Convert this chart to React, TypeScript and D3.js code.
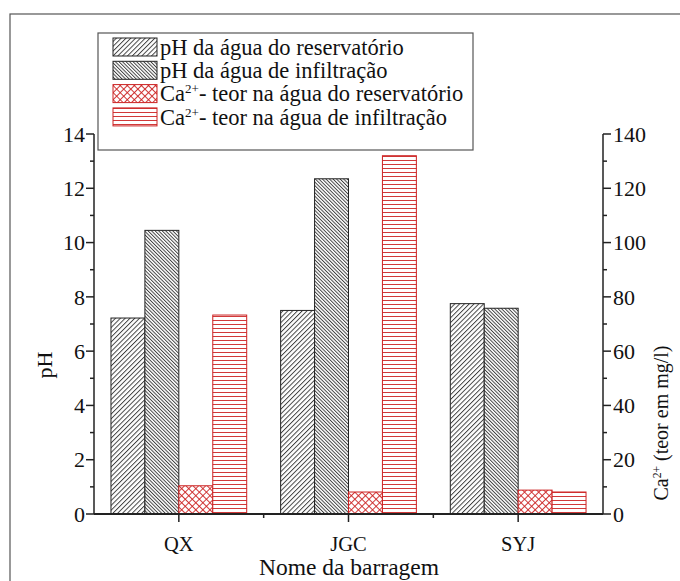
import React from "react";
import * as d3 from "d3";

const categories = ["QX", "JGC", "SYJ"];
const phReservoir = [7.22, 7.5, 7.75];
const phInfiltration = [10.45, 12.35, 7.58];
const caReservoir = [10.4, 8.1, 8.8];
const caInfiltration = [73.3, 132, 8.1];
const phTicks = [0, 2, 4, 6, 8, 10, 12, 14];
const caTicks = [0, 20, 40, 60, 80, 100, 120, 140];

const W = 680;
const H = 581;
const left = 94;
const right = 603;
const top = 134;
const bottom = 514;
const FONT = "Liberation Serif, DejaVu Serif, Times New Roman, serif";
const RED = "#cc2222";
const DARK = "#222";
const TICK_FS = 22;
const LEGEND_FS = 22.5;

type Series = { key: string; values: number[]; axis: "ph" | "ca"; fill: string; stroke: string };

const series: Series[] = [
  { key: "phRes", values: phReservoir, axis: "ph", fill: "url(#hatchFwd)", stroke: DARK },
  { key: "phInf", values: phInfiltration, axis: "ph", fill: "url(#hatchBack)", stroke: DARK },
  { key: "caRes", values: caReservoir, axis: "ca", fill: "url(#hatchCross)", stroke: RED },
  { key: "caInf", values: caInfiltration, axis: "ca", fill: "url(#hatchHoriz)", stroke: RED },
];

function CaLabel({ rest, size }: { rest: string; size: number }) {
  return (
    <>
      Ca
      <tspan fontSize={size * 0.58} dy={-size * 0.36}>2+</tspan>
      <tspan dy={size * 0.36}>{rest}</tspan>
    </>
  );
}

export default function App() {
  const x0 = d3.scaleBand<string>().domain(categories).range([left, right]).paddingInner(0).paddingOuter(0);
  const groupW = x0.bandwidth() * 0.8;
  const x1 = d3.scaleBand<string>().domain(series.map((s) => s.key)).range([0, groupW]);
  const yPh = d3.scaleLinear().domain([0, 14]).range([bottom, top]);
  const yCa = d3.scaleLinear().domain([0, 140]).range([bottom, top]);

  const phMinor = d3.range(1, 14, 2);
  const caMinor = d3.range(10, 140, 20);
  const bandEdges = categories.slice(1).map((c) => x0(c) as number);

  const legendItems = [
    { fill: "url(#hatchFwd)", stroke: DARK, label: <>pH da água do reservatório</> },
    { fill: "url(#hatchBack)", stroke: DARK, label: <>pH da água de infiltração</> },
    { fill: "url(#hatchCross)", stroke: RED, label: <CaLabel rest="- teor na água do reservatório" size={LEGEND_FS} /> },
    { fill: "url(#hatchHoriz)", stroke: RED, label: <CaLabel rest="- teor na água de infiltração" size={LEGEND_FS} /> },
  ];

  return (
    <svg
      width={W}
      height={H}
      style={{ position: "absolute", left: 0, top: 0, background: "#fff", fontFamily: FONT }}
    >
      <defs>
        <pattern id="hatchFwd" patternUnits="userSpaceOnUse" width={3.4} height={10} patternTransform="rotate(45)">
          <rect width={3.4} height={10} fill="#fff" />
          <line x1={0.5} y1={0} x2={0.5} y2={10} stroke="#333" strokeWidth={0.9} />
        </pattern>
        <pattern id="hatchBack" patternUnits="userSpaceOnUse" width={2.5} height={10} patternTransform="rotate(-45)">
          <rect width={2.5} height={10} fill="#fff" />
          <line x1={0.5} y1={0} x2={0.5} y2={10} stroke="#333" strokeWidth={0.9} />
        </pattern>
        <pattern id="hatchCross" patternUnits="userSpaceOnUse" width={5} height={5} patternTransform="rotate(45)">
          <rect width={5} height={5} fill="#fff" />
          <line x1={0.5} y1={0} x2={0.5} y2={5} stroke={RED} strokeWidth={0.9} />
          <line x1={0} y1={0.5} x2={5} y2={0.5} stroke={RED} strokeWidth={0.9} />
        </pattern>
        <pattern id="hatchHoriz" patternUnits="userSpaceOnUse" width={10} height={4}>
          <rect width={10} height={4} fill="#fff" />
          <line x1={0} y1={0.5} x2={10} y2={0.5} stroke={RED} strokeWidth={0.9} />
        </pattern>
      </defs>

      {/* outer frame */}
      <rect x={10} y={14} width={W} height={H} fill="none" stroke="#555" strokeWidth={1.2} />

      {/* bars */}
      {categories.map((c, i) => (
        <g key={c} transform={`translate(${(x0(c) as number) + (x0.bandwidth() - groupW) / 2},0)`}>
          {series.map((s) => {
            const y = s.axis === "ph" ? yPh : yCa;
            const v = s.values[i];
            return (
              <rect
                key={s.key}
                x={x1(s.key)}
                y={y(v)}
                width={x1.bandwidth()}
                height={bottom - y(v)}
                fill={s.fill}
                stroke={s.stroke}
                strokeWidth={1}
              />
            );
          })}
        </g>
      ))}

      {/* left axis */}
      <line x1={left} y1={top} x2={left} y2={bottom} stroke={DARK} strokeWidth={1.5} />
      {phTicks.map((t) => (
        <g key={t}>
          <line x1={left - 8} x2={left} y1={yPh(t)} y2={yPh(t)} stroke={DARK} strokeWidth={1.5} />
          <text x={left - 9} y={yPh(t)} dy="0.35em" textAnchor="end" fontSize={TICK_FS} fill="#111">{t}</text>
        </g>
      ))}
      {phMinor.map((t) => (
        <line key={t} x1={left - 4} x2={left} y1={yPh(t)} y2={yPh(t)} stroke={DARK} strokeWidth={1.5} />
      ))}

      {/* right axis */}
      <line x1={right} y1={top} x2={right} y2={bottom} stroke={DARK} strokeWidth={1.5} />
      {caTicks.map((t) => (
        <g key={t}>
          <line x1={right} x2={right + 8} y1={yCa(t)} y2={yCa(t)} stroke={DARK} strokeWidth={1.5} />
          <text x={right + 10} y={yCa(t)} dy="0.35em" textAnchor="start" fontSize={TICK_FS} fill="#111">{t}</text>
        </g>
      ))}
      {caMinor.map((t) => (
        <line key={t} x1={right} x2={right + 4} y1={yCa(t)} y2={yCa(t)} stroke={DARK} strokeWidth={1.5} />
      ))}

      {/* bottom axis */}
      <line x1={left} y1={bottom} x2={right} y2={bottom} stroke={DARK} strokeWidth={1.8} />
      {categories.map((c) => {
        const cx = (x0(c) as number) + x0.bandwidth() / 2;
        return (
          <g key={c}>
            <line x1={cx} x2={cx} y1={bottom} y2={bottom + 8} stroke={DARK} strokeWidth={1.5} />
            <text x={cx} y={bottom + 37} textAnchor="middle" fontSize={20.5} fill="#111">{c}</text>
          </g>
        );
      })}
      {bandEdges.map((e) => (
        <line key={e} x1={e} x2={e} y1={bottom} y2={bottom + 4} stroke={DARK} strokeWidth={1.5} />
      ))}

      {/* axis titles */}
      <text x={349} y={575} textAnchor="middle" fontSize={23.5} fill="#111">Nome da barragem</text>
      <text transform={`translate(52,365) rotate(-90)`} textAnchor="middle" fontSize={22} fill="#111">pH</text>
      <text transform={`translate(668,423) rotate(-90)`} textAnchor="middle" fontSize={20} fill="#111">
        <CaLabel rest=" (teor em mg/l)" size={20} />
      </text>

      {/* legend */}
      <rect x={98} y={33} width={375} height={117} fill="#fff" stroke="#555" strokeWidth={1.2} />
      {legendItems.map((it, i) => {
        const cy = 47 + i * 23.3;
        return (
          <g key={i}>
            <rect x={113} y={cy - 9} width={44} height={18} fill={it.fill} stroke={it.stroke} strokeWidth={1} />
            <text x={160} y={cy} dy="0.35em" fontSize={LEGEND_FS} fill="#111">{it.label}</text>
          </g>
        );
      })}
    </svg>
  );
}
